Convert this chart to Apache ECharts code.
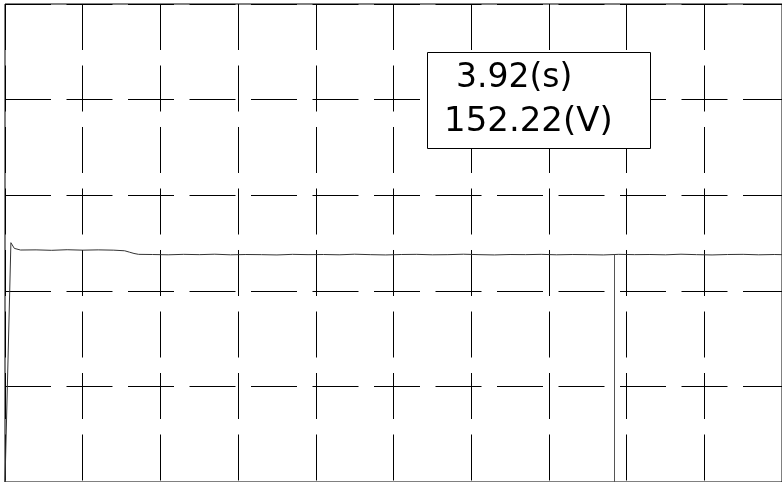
<!DOCTYPE html>
<html>
<head>
<meta charset="utf-8">
<script src="https://cdn.jsdelivr.net/npm/echarts@6/dist/echarts.min.js"></script>
<style>
  html, body { margin: 0; padding: 0; background: #fff; }
  #main { width: 782px; height: 482px; }
</style>
</head>
<body>
<div id="main"></div>
<script>
// time (s) and voltage (V) of the trace
const times = [0, 0.006, 0.038, 0.06, 0.1, 0.2, 0.3, 0.4, 0.5, 0.6, 0.7, 0.77, 0.8, 0.83, 0.86,
  0.95, 1.05, 1.15, 1.25, 1.35, 1.45, 1.55, 1.65, 1.75, 1.85, 1.95, 2.05, 2.15, 2.25, 2.35,
  2.45, 2.55, 2.65, 2.75, 2.85, 2.95, 3.05, 3.15, 3.25, 3.35, 3.45, 3.55, 3.65, 3.75, 3.85,
  3.95, 4.05, 4.15, 4.25, 4.35, 4.45, 4.55, 4.65, 4.75, 4.85, 4.95, 5.0];
const volts = [0, 0, 160.2, 156.4, 155.3, 155.4, 155.1, 155.5, 155.2, 155.4, 155.2, 154.8, 153.9, 153.0, 152.4,
  152.3, 152.1, 152.4, 152.2, 152.5, 152.1, 152.3, 152.2, 152.0, 152.4, 152.2, 152.3, 152.1, 152.5, 152.2,
  152.0, 152.3, 152.4, 152.1, 152.2, 152.5, 152.2, 152.0, 152.3, 152.2, 152.4, 152.1, 152.3, 152.2, 152.0,
  152.4, 152.2, 152.3, 152.1, 152.5, 152.2, 152.0, 152.3, 152.4, 152.1, 152.3, 152.2];

// cursor readout
const cursorTime = 3.92;
const cursorVolt = 152.22;

const xTicks = [0, 5, 0.5];   // min, max, step
const yTicks = [0, 320, 64];

const chart = echarts.init(document.getElementById('main'));

const dash = { color: '#000', width: 1, type: [46, 15.5] };

var option = {
  backgroundColor: '#fff',
  animation: false,
  grid: {
    left: 5, top: 4, width: 783, height: 480,
    show: true, borderColor: '#000', borderWidth: 1, backgroundColor: 'transparent'
  },
  xAxis: {
    type: 'value',
    min: xTicks[0], max: xTicks[1], interval: xTicks[2],
    axisLine: { show: false }, axisTick: { show: false }, axisLabel: { show: false },
    splitLine: { show: true, lineStyle: dash }
  },
  yAxis: {
    type: 'value',
    min: yTicks[0], max: yTicks[1], interval: yTicks[2],
    axisLine: { show: false }, axisTick: { show: false }, axisLabel: { show: false },
    splitLine: { show: true, lineStyle: dash }
  },
  series: [{
    type: 'line',
    data: times.map((t, i) => [t, volts[i]]),
    showSymbol: false,
    lineStyle: { color: '#333', width: 1 },
    markLine: {
      silent: true,
      symbol: 'none',
      label: { show: false },
      lineStyle: { color: '#555', width: 1, type: 'solid' },
      data: [[{ coord: [cursorTime, cursorVolt] }, { coord: [cursorTime, 0] }]]
    }
  }],
  graphic: [{
    type: 'rect',
    z: 100,
    shape: { x: 427.5, y: 52.5, width: 223, height: 96 },
    style: { fill: '#fff', stroke: '#000', lineWidth: 1 }
  }, {
    type: 'text',
    z: 101,
    x: 456, y: 78,
    style: { text: cursorTime.toFixed(2) + '(s)', font: '33px "DejaVu Sans"', fill: '#000', verticalAlign: 'middle' }
  }, {
    type: 'text',
    z: 101,
    x: 444, y: 122,
    style: { text: cursorVolt.toFixed(2) + '(V)', font: '34px "DejaVu Sans"', fill: '#000', verticalAlign: 'middle' }
  }]
};

chart.setOption(option);
</script>
</body>
</html>
